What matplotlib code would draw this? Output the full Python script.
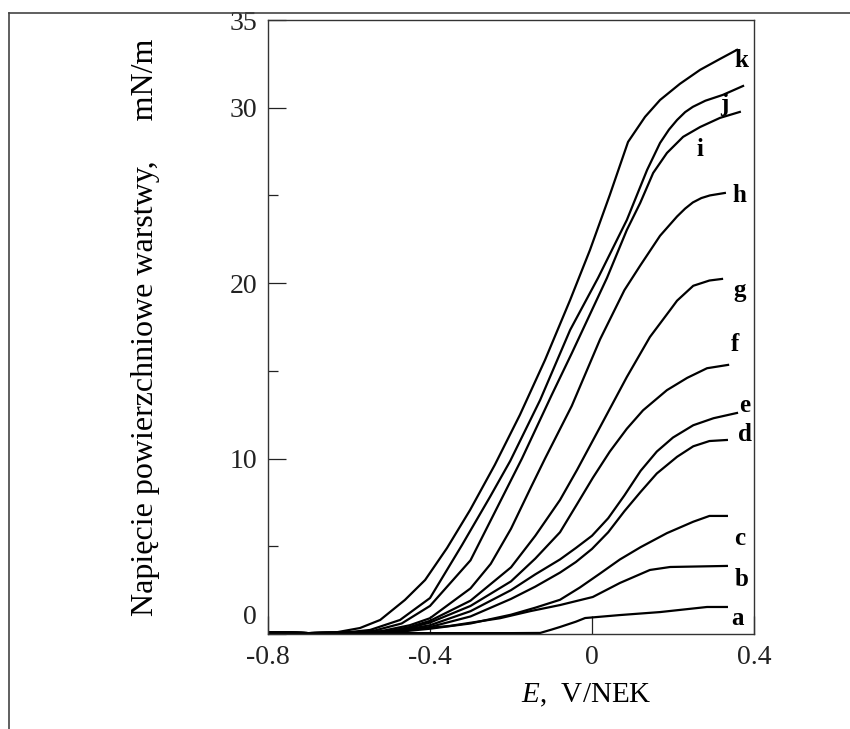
import matplotlib
matplotlib.use("Agg")
import matplotlib.pyplot as plt
from matplotlib import lines
from matplotlib.transforms import ScaledTranslation

plt.rcParams["font.family"] = ["Liberation Serif", "DejaVu Serif"]
plt.rcParams["axes.unicode_minus"] = False
plt.rcParams["mathtext.fontset"] = "custom"
plt.rcParams["mathtext.it"] = "Liberation Serif:italic"
plt.rcParams["mathtext.rm"] = "Liberation Serif"

# surface tension curves, E in V vs NEK, value in mN/m
E_a = [-0.8, -0.7, -0.6, -0.4, -0.2, -0.128, -0.1, -0.079, -0.04, -0.017, 0.069, 0.168, 0.284, 0.333]
v_a = [0.1, 0.05, 0.06, 0.05, 0.05, 0.06, 0.25, 0.4, 0.7, 0.91, 1.08, 1.25, 1.54, 1.54]

E_b = [-0.8, -0.7, -0.6, -0.573, -0.474, -0.351, -0.227, -0.153, -0.079, 0.002, 0.069, 0.143, 0.193, 0.333]
v_b = [0.1, 0.05, 0.08, 0.1, 0.2, 0.46, 0.9, 1.3, 1.65, 2.11, 2.91, 3.65, 3.82, 3.88]

E_c = [-0.8, -0.7, -0.6, -0.48, -0.4, -0.3, -0.2, -0.14, -0.079, -0.03, 0.02, 0.069, 0.12, 0.185, 0.25, 0.29, 0.333]
v_c = [0.1, 0.05, 0.08, 0.12, 0.3, 0.6, 1.1, 1.5, 1.95, 2.65, 3.45, 4.25, 4.95, 5.75, 6.4, 6.73, 6.73]

E_d = [-0.8, -0.7, -0.6, -0.48, -0.4, -0.3, -0.2, -0.14, -0.079, -0.04, 0.0, 0.04, 0.08, 0.12, 0.16, 0.21, 0.25, 0.29, 0.333]
v_d = [0.1, 0.05, 0.08, 0.12, 0.4, 1.0, 2.0, 2.7, 3.5, 4.1, 4.85, 5.8, 7.0, 8.1, 9.15, 10.1, 10.7, 11.0, 11.06]

E_e = [-0.8, -0.7, -0.6, -0.49, -0.4, -0.3, -0.2, -0.14, -0.079, -0.04, 0.0, 0.04, 0.08, 0.12, 0.16, 0.2, 0.25, 0.3, 0.358]
v_e = [0.1, 0.05, 0.08, 0.12, 0.5, 1.3, 2.5, 3.4, 4.25, 4.9, 5.6, 6.6, 7.9, 9.3, 10.4, 11.2, 11.9, 12.3, 12.6]

E_f = [-0.8, -0.7, -0.6, -0.5, -0.45, -0.4, -0.3, -0.2, -0.14, -0.079, -0.037, 0.002, 0.044, 0.086, 0.126, 0.185, 0.235, 0.284, 0.336]
v_f = [0.1, 0.05, 0.08, 0.12, 0.35, 0.65, 1.6, 3.0, 4.3, 5.8, 7.4, 8.9, 10.4, 11.7, 12.75, 13.9, 14.6, 15.15, 15.34]

E_g = [-0.8, -0.7, -0.6, -0.511, -0.45, -0.4, -0.3, -0.2, -0.14, -0.079, -0.037, 0.02, 0.086, 0.143, 0.193, 0.21, 0.25, 0.29, 0.321]
v_g = [0.1, 0.05, 0.08, 0.12, 0.4, 0.75, 1.9, 3.8, 5.6, 7.64, 9.35, 11.8, 14.65, 16.93, 18.47, 19.0, 19.85, 20.15, 20.24]

E_h = [-0.8, -0.7, -0.6, -0.523, -0.45, -0.4, -0.3, -0.25, -0.2, -0.15, -0.116, -0.05, 0.02, 0.08, 0.119, 0.168, 0.21, 0.23, 0.249, 0.27, 0.291, 0.328]
v_h = [0.1, 0.05, 0.08, 0.15, 0.5, 0.9, 2.6, 4.0, 6.0, 8.4, 10.0, 13.0, 16.8, 19.6, 21.0, 22.7, 23.8, 24.25, 24.6, 24.85, 25.0, 25.14]

E_i = [-0.8, -0.7, -0.6, -0.536, -0.47, -0.4, -0.3, -0.173, -0.1, -0.05, 0.037, 0.086, 0.119, 0.151, 0.185, 0.225, 0.267, 0.316, 0.365]
v_i = [0.1, 0.05, 0.08, 0.2, 0.6, 1.6, 4.2, 10.0, 13.6, 16.0, 20.3, 23.03, 24.57, 26.28, 27.42, 28.34, 28.9, 29.42, 29.76]

E_j = [-0.8, -0.7, -0.61, -0.548, -0.474, -0.4, -0.321, -0.252, -0.202, -0.128, -0.054, 0.015, 0.086, 0.136, 0.168, 0.19, 0.21, 0.23, 0.249, 0.28, 0.323, 0.373]
v_j = [0.1, 0.05, 0.08, 0.23, 0.8, 2.05, 5.07, 7.81, 9.86, 13.34, 17.33, 20.3, 23.6, 26.45, 27.99, 28.75, 29.3, 29.75, 30.05, 30.4, 30.73, 31.24]

E_k = [-0.8, -0.7, -0.635, -0.573, -0.523, -0.462, -0.412, -0.358, -0.301, -0.24, -0.178, -0.116, -0.054, -0.005, 0.044, 0.089, 0.131, 0.168, 0.217, 0.267, 0.316, 0.358]
v_k = [0.1, 0.05, 0.08, 0.34, 0.8, 1.94, 3.08, 4.9, 7.07, 9.64, 12.49, 15.62, 19.04, 21.89, 25.03, 28.05, 29.48, 30.44, 31.36, 32.16, 32.78, 33.3]

curves = [(E_a, v_a), (E_b, v_b), (E_c, v_c), (E_d, v_d), (E_e, v_e), (E_f, v_f),
          (E_g, v_g), (E_h, v_h), (E_i, v_i), (E_j, v_j), (E_k, v_k)]

curve_names = ["a", "b", "c", "d", "e", "f", "g", "h", "i", "j", "k"]
label_E = [0.36, 0.37, 0.365, 0.378, 0.378, 0.353, 0.365, 0.365, 0.267, 0.328, 0.37]
label_v = [0.91, 3.08, 5.47, 11.35, 13.05, 16.5, 19.6, 25.0, 27.6, 30.2, 32.7]

x_ticks = [-0.8, -0.4, 0.0, 0.4]
x_ticklabels = ["-0.8", "-0.4", "0", "0.4"]
y_ticks = [0, 10, 20, 30, 35]
y_ticklabels = ["0", "10", "20", "30", "35"]
y_minor = [5, 15, 25]

fig = plt.figure(figsize=(8.5, 7.29), dpi=100)

ax = fig.add_axes([268 / 850, 95 / 729, 486 / 850, 614 / 729])

for (E, v) in curves:
    ax.plot(E, v, color="black", lw=1.6, solid_joinstyle="round")

for name, xe, yv in zip(curve_names, label_E, label_v):
    ax.text(xe, yv, name, fontsize=18, fontweight="bold",
            ha="center", va="center")

ax.set_xlim(-0.8, 0.4)
ax.set_ylim(0, 35)

ax.set_xticks(x_ticks)
ax.set_xticklabels(x_ticklabels)
ax.set_yticks(y_ticks)
ax.set_yticklabels(y_ticklabels)
ax.set_yticks(y_minor, minor=True)
ax.tick_params(axis="both", which="major", direction="in", length=13,
               width=0.9, labelsize=20, colors="#222222")
ax.tick_params(axis="x", pad=8)
ax.tick_params(axis="y", pad=8)
ax.tick_params(axis="y", which="minor", direction="in", length=7, width=0.9,
               color="#222222")

# the "0" on the y axis sits a little above the axis line
for lab in ax.get_yticklabels():
    if lab.get_text() == "0":
        lab.set_transform(lab.get_transform() +
                          ScaledTranslation(0, 0.19, fig.dpi_scale_trans))

for sp in ax.spines.values():
    sp.set_linewidth(1.0)
    sp.set_color("#333333")

ax.set_ylabel("Napięcie powierzchniowe warstwy,     mN/m", fontsize=23)
ax.yaxis.set_label_coords(-0.222, 0.5)
ax.set_xlabel(r"$\it{E}$,  V/NEK", fontsize=21)
ax.xaxis.set_label_coords(0.654, -0.078)

# outer frame of the scanned figure
fig.add_artist(lines.Line2D([9 / 850, 1.0], [1 - 13 / 729, 1 - 13 / 729],
                            transform=fig.transFigure, color="#444444", lw=1.2))
fig.add_artist(lines.Line2D([9 / 850, 9 / 850], [0.0, 1 - 13 / 729],
                            transform=fig.transFigure, color="#444444", lw=1.2))

fig.savefig("out.png", dpi=100)
